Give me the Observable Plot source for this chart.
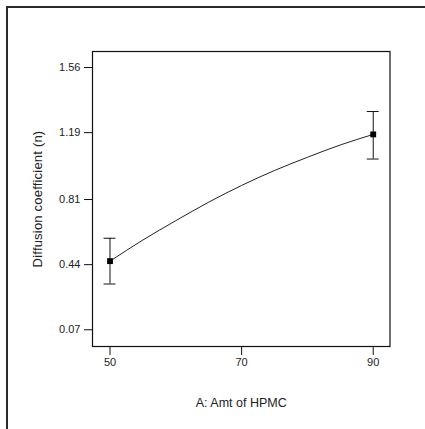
<!DOCTYPE html>
<html>
<head>
<meta charset="utf-8">
<script src="https://cdn.jsdelivr.net/npm/d3@7"></script>
<script src="https://cdn.jsdelivr.net/npm/@observablehq/plot@0.6"></script>
<style>
  html, body { margin: 0; padding: 0; background: #fff; }
  #wrap { position: relative; width: 425px; height: 429px; overflow: hidden; }
  #outer { position: absolute; left: 6px; top: 6px; width: 440px; height: 440px;
           border-left: 2px solid #2a2a2a; border-top: 2px solid #2a2a2a; pointer-events: none; }
  #chart { position: absolute; left: 0; top: 0; }
  .ytitle { letter-spacing: 0.2px; }
</style>
</head>
<body>
<div id="wrap"><div id="chart"></div><div id="outer"></div></div>
<script>
// Design points (A: Amt of HPMC) with predicted n and confidence bars
const pointX = [50, 90];
const pointY = [0.46, 1.18];
const pointLow = [0.33, 1.04];
const pointHigh = [0.59, 1.31];

// Response curve
const curveX = [50, 55, 60, 65, 70, 75, 80, 85, 90];
const curveY = [0.46, 0.58, 0.69, 0.795, 0.89, 0.975, 1.05, 1.12, 1.18];

// Tick values and labels
const xTicks = [50, 70, 90];
const yTicks = [0.07, 0.44, 0.81, 1.19, 1.56];
const yTickLabels = ["0.07", "0.44", "0.81", "1.19", "1.56"];

const xTitle = "A: Amt of HPMC";
const yTitle = "Diffusion coefficient (n)";

const points = pointX.map((x, i) => ({x, y: pointY[i], lo: pointLow[i], hi: pointHigh[i]}));
const curve = curveX.map((x, i) => ({x, y: curveY[i]}));
const capHalf = 0.9;

const chart = Plot.plot({
  width: 425,
  height: 429,
  marginLeft: 92,
  marginRight: 35.5,
  marginTop: 51,
  marginBottom: 83,
  style: {fontFamily: "'Liberation Sans', Arial, sans-serif", fontSize: "11px", color: "#222", background: "transparent"},
  x: {domain: [47.34, 92.55]},
  y: {domain: [-0.025, 1.651]},
  marks: [
    Plot.frame({stroke: "#111", strokeWidth: 1.2}),
    Plot.axisX({ticks: xTicks, tickSize: 9, tickPadding: 3, label: null, stroke: "#111", fontSize: 11}),
    Plot.axisY({ticks: yTicks, tickSize: 8, tickPadding: 4, label: null, stroke: "#111", fontSize: 11,
      tickFormat: (d) => yTickLabels[yTicks.indexOf(d)]}),
    Plot.line(curve, {x: "x", y: "y", curve: "natural", stroke: "#222", strokeWidth: 1}),
    Plot.ruleX(points, {x: "x", y1: "lo", y2: "hi", stroke: "#111", strokeWidth: 1}),
    Plot.ruleY(points, {y: "lo", x1: d => d.x - capHalf, x2: d => d.x + capHalf, stroke: "#111", strokeWidth: 1}),
    Plot.ruleY(points, {y: "hi", x1: d => d.x - capHalf, x2: d => d.x + capHalf, stroke: "#111", strokeWidth: 1}),
    Plot.dot(points, {x: "x", y: "y", symbol: "square", r: 3.3, fill: "#000", stroke: "none"}),
    Plot.text([xTitle], {frameAnchor: "bottom", dy: 56, text: d => d, fontSize: 12.5, fill: "#222", lineAnchor: "middle"}),
    Plot.text([yTitle], {frameAnchor: "left", dx: -55, text: d => d, rotate: -90, fontSize: 13, fill: "#222", lineAnchor: "middle", textAnchor: "middle", className: "ytitle"})
  ]
});
document.getElementById("chart").appendChild(chart);
</script>
</body>
</html>
